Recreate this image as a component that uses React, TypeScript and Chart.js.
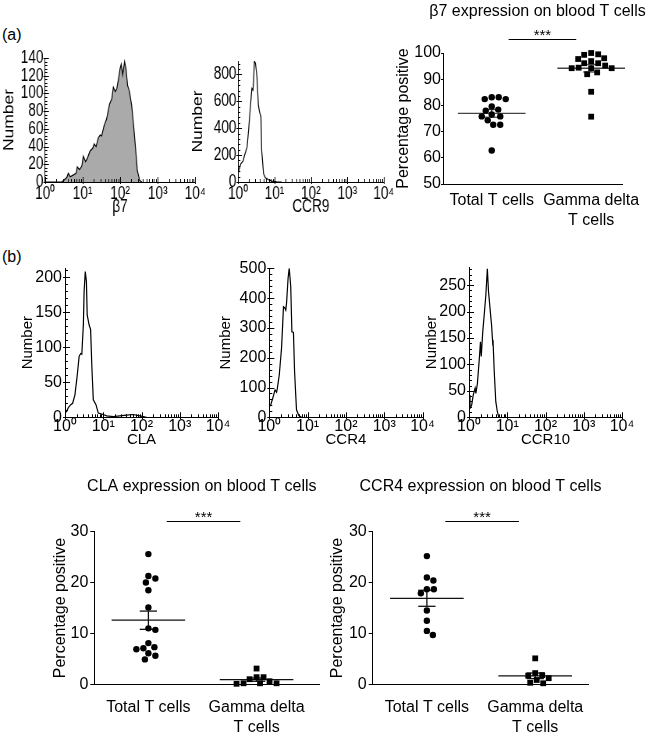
import React, { useEffect, useRef } from "react";
import { Chart, registerables } from "chart.js";

Chart.register(...registerables);

const FONT = "'Liberation Sans', Arial, Helvetica, sans-serif";

// ---------- tick labels & categories ----------
const decadeValues = [1, 10, 100, 1000, 10000];
const decadeLabels = ["10⁰", "10¹", "10²", "10³", "10⁴"];
const groupLabels: any[] = ["Total T cells", ["Gamma delta", "T cells"]];

// ---------- histograms: log10 fluorescence position / event count ----------
const b7Log = [0, 0.45, 0.5, 0.58, 0.62, 0.67, 0.76, 0.83, 0.86, 0.92, 0.98, 1.02, 1.08, 1.13, 1.2, 1.27, 1.31, 1.36, 1.42, 1.47, 1.51, 1.57, 1.64, 1.72, 1.78, 1.82, 1.87, 1.91, 1.96, 2.0, 2.03, 2.07, 2.12, 2.16, 2.2, 2.25, 2.31, 2.37, 2.43, 2.46, 2.52, 2.58];
const b7Count = [0, 0, 2, 5, 10, 6, 8, 10, 17, 14, 18, 29, 23, 27, 35, 38, 43, 40, 50, 53, 52, 63, 71, 88, 94, 107, 102, 105, 117, 128, 133, 121, 136, 127, 109, 102, 86, 59, 29, 13, 2, 0];

const ccr9Log = [0, 0.036, 0.08, 0.14, 0.18, 0.25, 0.29, 0.34, 0.38, 0.41, 0.43, 0.45, 0.48, 0.52, 0.56, 0.59, 0.63, 0.65, 0.7, 0.75, 0.84, 0.93, 1.06, 1.2];
const ccr9Count = [62, 99, 137, 157, 199, 261, 385, 559, 696, 683, 758, 900, 882, 783, 571, 522, 484, 236, 62, 32, 17, 7, 2, 0];

const claLog = [0, 0.04, 0.09, 0.15, 0.2, 0.26, 0.32, 0.37, 0.41, 0.44, 0.48, 0.5, 0.53, 0.56, 0.58, 0.63, 0.67, 0.7, 0.74, 0.81, 0.87, 1.0, 1.09, 1.26, 1.43, 1.6, 1.78, 1.96, 2.13];
const claCount = [10, 8, 14, 18, 20, 32, 60, 87, 91, 90, 132, 180, 208, 194, 146, 132, 125, 75, 25, 18, 6, 4, 2, 1, 2, 3, 4, 2, 0];

const ccr4Log = [0, 0.035, 0.09, 0.15, 0.19, 0.21, 0.26, 0.32, 0.37, 0.4, 0.43, 0.45, 0.49, 0.52, 0.56, 0.59, 0.63, 0.66, 0.71, 0.77, 0.84];
const ccr4Count = [36, 41, 64, 92, 84, 97, 142, 232, 371, 368, 360, 383, 466, 500, 438, 287, 285, 153, 25, 6, 0];

const ccr10Log = [0, 0.026, 0.07, 0.11, 0.16, 0.18, 0.22, 0.27, 0.3, 0.32, 0.36, 0.4, 0.44, 0.48, 0.51, 0.55, 0.59, 0.62, 0.63, 0.66, 0.7, 0.74, 0.78];
const ccr10Count = [42, 17, 23, 42, 55, 45, 64, 111, 143, 115, 162, 196, 231, 281, 238, 206, 174, 140, 142, 86, 30, 11, 0];

// ---------- percentage positive (each dot = one donor) ----------
const b7Total = [83.1, 83.1, 82.4, 82.4, 79.6, 78.4, 78.0, 76.5, 75.8, 75.8, 74.3, 72.6, 72.6, 62.8];
const b7Gamma = [100, 99.3, 99.5, 97.7, 98, 96.1, 96.1, 96.9, 94.2, 94.2, 94.2, 94.4, 91.9, 92.6, 85.2, 75.7, 95.2];
const claTotal = [25.6, 21.3, 20.8, 20.0, 18.5, 15.1, 10.7, 11.0, 8.1, 7.1, 6.9, 7.3, 6.1, 5.6, 4.9];
const claGamma = [1.4, 0.6, 0.2, 0.2, 3.1, 0.2, 0.1, 1.0, 1.4];
const ccr4Total = [25.2, 20.4, 21.0, 18.7, 17.9, 18.7, 14.5, 12.5, 9.7, 10.5];
const ccr4Gamma = [5.1, 2.2, 1.7, 0.85, 0.2, 0.3, 1.2, 1.8];

// ---------- helpers ----------
function range(min: number, max: number, step: number) {
  const out: number[] = [];
  for (let v = min; v <= max + 1e-9; v += step) out.push(Math.round(v * 1000) / 1000);
  return out;
}
function mean(a: number[]) {
  return a.reduce((s, v) => s + v, 0) / a.length;
}
function sem(a: number[]) {
  const m = mean(a);
  const v = a.reduce((s, x) => s + (x - m) * (x - m), 0) / (a.length - 1);
  return Math.sqrt(v / a.length);
}
// deterministic beeswarm: horizontal offsets (in category units) so dots don't overlap
function swarm(vals: number[], pxPerVal: number, pxPerCat: number, diam: number) {
  const idx = vals.map((_, i) => i).sort((a, b) => vals[b] - vals[a]);
  const placed: number[][] = [];
  const out = vals.map(() => 0);
  for (const i of idx) {
    const py = vals[i] * pxPerVal;
    let chosen = 0;
    for (let k = 0; k < 400; k++) {
      const cand = (k % 2 === 1 ? 1 : -1) * Math.ceil(k / 2) * 0.5;
      if (placed.every(([qx, qy]) => (cand - qx) ** 2 + (py - qy) ** 2 >= diam * diam)) {
        chosen = cand;
        break;
      }
    }
    placed.push([chosen, py]);
    out[i] = chosen / pxPerCat;
  }
  return out;
}

type Box = { x: number; y: number; w: number; h: number };
type Area = { l: number; t: number; r: number; b: number };

function ChartBox({ box, squash = 1, make }: { box: Box; squash?: number; make: () => any }) {
  const ref = useRef<HTMLCanvasElement>(null);
  useEffect(() => {
    const chart = new Chart(ref.current as HTMLCanvasElement, make());
    return () => chart.destroy();
  }, []);
  return (
    <div style={{ position: "absolute", left: box.x, top: box.y, width: box.w, height: box.h }}>
      <canvas
        ref={ref}
        width={Math.round(box.w / squash)}
        height={box.h}
        style={{ display: "block", transform: squash !== 1 ? `scaleX(${squash})` : "none", transformOrigin: "0 0" }}
      />
    </div>
  );
}

// ---------- histogram panel ----------
type HistP = {
  box: Box; area: Area; squash: number; font: number; titleFont: number;
  logX: number[]; counts: number[]; yMax: number; yStep: number; yMinor: number;
  fill?: string; xTitle: string; xTitleY: number; yTitleX: number; xLabelPad: number; yLabelPad: number;
};

function histTicksPlugin(p: HistP) {
  return {
    id: "histTicks",
    afterDraw(chart: any) {
      const { ctx, chartArea: a, scales } = chart;
      const x = scales.x, y = scales.y;
      ctx.save();
      ctx.strokeStyle = "#000";
      ctx.lineWidth = 1;
      ctx.beginPath();
      for (const v of range(0, p.yMax, p.yMinor)) {
        const py = Math.round(y.getPixelForValue(v)) + 0.5;
        const major = Math.abs(v / p.yStep - Math.round(v / p.yStep)) < 1e-6;
        ctx.moveTo(a.left - (major ? 2 : 0), py);
        ctx.lineTo(a.left + (major ? 5 : 3), py);
      }
      for (let k = 0; k < 4; k++) {
        for (let m = 2; m <= 9; m++) {
          const px = Math.round(x.getPixelForValue(m * Math.pow(10, k))) + 0.5;
          ctx.moveTo(px, a.bottom);
          ctx.lineTo(px, a.bottom - 3);
        }
      }
      for (const v of decadeValues) {
        const px = Math.round(x.getPixelForValue(v)) + 0.5;
        ctx.moveTo(px, a.bottom + 2);
        ctx.lineTo(px, a.bottom - 5);
      }
      ctx.stroke();
      ctx.restore();
    },
  };
}

function histConfig(p: HistP) {
  const s = p.squash;
  const padTop = p.area.t - p.box.y;
  const padRight = (p.box.x + p.box.w - p.area.r) / s;
  const yW = (p.area.l - p.box.x) / s;
  const xH = p.box.y + p.box.h - p.area.b;
  const lh = p.titleFont * 1.2;
  const data = p.logX.map((lx, i) => ({ x: Math.pow(10, lx), y: p.counts[i] }));
  return {
    type: "line",
    data: {
      datasets: [
        {
          data,
          borderColor: "#000",
          borderWidth: 1.2,
          pointRadius: 0,
          tension: 0,
          fill: p.fill ? "origin" : false,
          backgroundColor: p.fill || "rgba(0,0,0,0)",
        },
      ],
    },
    options: {
      animation: false,
      responsive: false,
      events: [],
      layout: { padding: { top: padTop, right: padRight, left: 0, bottom: 0 } },
      plugins: { legend: { display: false }, tooltip: { enabled: false } },
      scales: {
        x: {
          type: "logarithmic",
          min: 1,
          max: 10000,
          afterBuildTicks: (sc: any) => {
            sc.ticks = decadeValues.map((v) => ({ value: v }));
          },
          afterFit: (sc: any) => {
            sc.height = xH;
            sc.paddingLeft = 0;
            sc.paddingRight = 0;
          },
          grid: { display: false, drawTicks: false },
          border: { display: true, color: "#000", width: 1 },
          ticks: {
            color: "#000",
            font: { family: FONT, size: p.font },
            padding: p.xLabelPad,
            maxRotation: 0,
            autoSkip: false,
            callback: (v: any) => decadeLabels[Math.round(Math.log10(Number(v)))],
          },
          title: {
            display: true,
            text: p.xTitle,
            color: "#000",
            font: { family: FONT, size: p.titleFont },
            padding: { top: 0, bottom: p.box.y + p.box.h - p.xTitleY - lh / 2 },
          },
        },
        y: {
          type: "linear",
          min: 0,
          max: p.yMax,
          afterBuildTicks: (sc: any) => {
            sc.ticks = range(0, p.yMax, p.yStep).map((v) => ({ value: v }));
          },
          afterFit: (sc: any) => {
            sc.width = yW;
            sc.paddingTop = 0;
            sc.paddingBottom = 0;
          },
          grid: { display: false, drawTicks: false },
          border: { display: true, color: "#000", width: 1 },
          ticks: { color: "#000", font: { family: FONT, size: p.font }, padding: p.yLabelPad, autoSkip: false },
          title: {
            display: true,
            text: "Number",
            color: "#000",
            font: { family: FONT, size: p.titleFont },
            padding: { top: (p.yTitleX - p.box.x) / s - lh / 2, bottom: 0 },
          },
        },
      },
    },
    plugins: [histTicksPlugin(p)],
  };
}

// ---------- dot-plot panel ----------
type DotP = {
  box: Box; area: Area; groups: number[][]; xMin: number; xMax: number;
  yMin: number; yMax: number; yStep: number; tickLen: number; yLabelPad: number; xLabelPad: number;
  yTitleX: number; title: string; titleDx: number; titleGap: number; sigGap: number; lineColor: string;
};

function dotAnnotPlugin(p: DotP) {
  return {
    id: "dotAnnot",
    afterDraw(chart: any) {
      const { ctx, chartArea: a, scales } = chart;
      const x = scales.x;
      ctx.save();
      ctx.fillStyle = "#000";
      ctx.textAlign = "center";
      ctx.textBaseline = "middle";
      ctx.font = `16px ${FONT}`;
      ctx.fillText(p.title, (a.left + a.right) / 2 + p.titleDx, a.top - p.titleGap);
      const ly = Math.round(a.top - p.sigGap) + 0.5;
      const x0 = x.getPixelForValue(0.17);
      const x1 = x.getPixelForValue(0.85);
      ctx.strokeStyle = "#000";
      ctx.lineWidth = 1;
      ctx.beginPath();
      ctx.moveTo(x0, ly);
      ctx.lineTo(x1, ly);
      ctx.stroke();
      ctx.font = `15px ${FONT}`;
      ctx.textBaseline = "alphabetic";
      ctx.fillText("***", (x0 + x1) / 2, ly + 0.5);
      ctx.restore();
    },
  };
}

function dotConfig(p: DotP) {
  const padTop = p.area.t - p.box.y;
  const padRight = p.box.x + p.box.w - p.area.r;
  const yW = p.area.l - p.box.x;
  const xH = p.box.y + p.box.h - p.area.b;
  const pxPerVal = (p.area.b - p.area.t) / (p.yMax - p.yMin);
  const pxPerCat = (p.area.r - p.area.l) / (p.xMax - p.xMin);
  const datasets: any[] = [];
  p.groups.forEach((vals, gi) => {
    const off = swarm(vals, pxPerVal, pxPerCat, 7);
    datasets.push({
      type: "scatter",
      data: vals.map((v, i) => ({ x: gi + off[i], y: v })),
      pointStyle: gi === 0 ? "circle" : "rect",
      pointRadius: gi === 0 ? 3.2 : 4.1,
      backgroundColor: "#000",
      borderWidth: 0,
      clip: false,
      order: 0,
    });
    const m = mean(vals);
    const e = sem(vals);
    const segs = [
      [[gi - 0.34, m], [gi + 0.34, m]],
      [[gi, m - e], [gi, m + e]],
      [[gi - 0.08, m + e], [gi + 0.08, m + e]],
      [[gi - 0.08, m - e], [gi + 0.08, m - e]],
    ];
    segs.forEach((sg) => {
      datasets.push({
        type: "scatter",
        showLine: true,
        data: sg.map(([x, y]) => ({ x, y })),
        borderColor: p.lineColor,
        borderWidth: 1.3,
        pointRadius: 0,
        clip: false,
        order: 1,
      });
    });
  });
  return {
    type: "scatter",
    data: { datasets },
    options: {
      animation: false,
      responsive: false,
      events: [],
      layout: { padding: { top: padTop, right: padRight, left: 0, bottom: 0 } },
      plugins: { legend: { display: false }, tooltip: { enabled: false } },
      scales: {
        x: {
          type: "linear",
          min: p.xMin,
          max: p.xMax,
          afterBuildTicks: (sc: any) => {
            sc.ticks = groupLabels.map((_, i) => ({ value: i }));
          },
          afterFit: (sc: any) => {
            sc.height = xH;
            sc.paddingLeft = 0;
            sc.paddingRight = 0;
          },
          grid: { display: false, drawTicks: false },
          border: { display: true, color: "#000", width: 1 },
          ticks: {
            color: "#000",
            font: { family: FONT, size: 16 },
            padding: p.xLabelPad,
            maxRotation: 0,
            autoSkip: false,
            callback: (v: any) => groupLabels[Math.round(Number(v))],
          },
        },
        y: {
          type: "linear",
          min: p.yMin,
          max: p.yMax,
          afterBuildTicks: (sc: any) => {
            sc.ticks = range(p.yMin, p.yMax, p.yStep).map((v) => ({ value: v }));
          },
          afterFit: (sc: any) => {
            sc.width = yW;
            sc.paddingTop = 0;
            sc.paddingBottom = 0;
          },
          grid: { display: true, drawOnChartArea: false, drawTicks: true, tickLength: p.tickLen, color: "#000", lineWidth: 1 },
          border: { display: true, color: "#000", width: 1 },
          ticks: { color: "#000", font: { family: FONT, size: 16 }, padding: p.yLabelPad, autoSkip: false },
          title: {
            display: true,
            text: "Percentage positive",
            color: "#000",
            font: { family: FONT, size: 16 },
            padding: { top: p.yTitleX - p.box.x - 9.6, bottom: 0 },
          },
        },
      },
    },
    plugins: [dotAnnotPlugin(p)],
  };
}

// ---------- panel layouts ----------
const histA1: HistP = {
  box: { x: 0, y: 40, w: 205, h: 180 }, area: { l: 45, t: 58, r: 195, b: 182 }, squash: 0.78,
  font: 17.5, titleFont: 17.5, logX: b7Log, counts: b7Count, yMax: 140, yStep: 20, yMinor: 4,
  fill: "#aaaaaa", xTitle: "β7", xTitleY: 207.5, yTitleX: 9.2, xLabelPad: 1.5, yLabelPad: 2,
};
const histA2: HistP = {
  box: { x: 188, y: 40, w: 207, h: 180 }, area: { l: 238, t: 61, r: 384, b: 182 }, squash: 0.78,
  font: 17.5, titleFont: 17.5, logX: ccr9Log, counts: ccr9Count, yMax: 900, yStep: 200, yMinor: 40,
  xTitle: "CCR9", xTitleY: 207.5, yTitleX: 198.5, xLabelPad: 1.5, yLabelPad: 2,
};
const histB1: HistP = {
  box: { x: 0, y: 255, w: 235, h: 200 }, area: { l: 65, t: 268, r: 218, b: 417.3 }, squash: 1,
  font: 16, titleFont: 15, logX: claLog, counts: claCount, yMax: 213, yStep: 50, yMinor: 10,
  xTitle: "CLA", xTitleY: 440, yTitleX: 27.5, xLabelPad: 0, yLabelPad: 3,
};
const histB2: HistP = {
  box: { x: 212, y: 255, w: 228, h: 200 }, area: { l: 269.3, t: 268.3, r: 422.5, b: 417.3 }, squash: 1,
  font: 16, titleFont: 15, logX: ccr4Log, counts: ccr4Count, yMax: 500, yStep: 100, yMinor: 20,
  xTitle: "CCR4", xTitleY: 440, yTitleX: 226, xLabelPad: 0, yLabelPad: 3,
};
const histB3: HistP = {
  box: { x: 415, y: 255, w: 236, h: 200 }, area: { l: 469, t: 267.7, r: 622, b: 417.3 }, squash: 1,
  font: 16, titleFont: 15, logX: ccr10Log, counts: ccr10Count, yMax: 283, yStep: 50, yMinor: 10,
  xTitle: "CCR10", xTitleY: 440, yTitleX: 432, xLabelPad: 0, yLabelPad: 3,
};

const dotB7: DotP = {
  box: { x: 385, y: 0, w: 266, h: 235 }, area: { l: 443, t: 53, r: 622, b: 184 },
  groups: [b7Total, b7Gamma], xMin: -0.49, xMax: 1.31, yMin: 50, yMax: 100, yStep: 10,
  tickLen: 2, yLabelPad: 0, xLabelPad: 7.4, yTitleX: 404, title: "β7 expression on blood T cells",
  titleDx: 5, titleGap: 41, sigGap: 14, lineColor: "#444",
};
const dotCLA: DotP = {
  box: { x: 30, y: 470, w: 300, h: 268 }, area: { l: 94.3, t: 531.7, r: 319.3, b: 684.3 },
  groups: [claTotal, claGamma], xMin: -0.5, xMax: 1.58, yMin: 0, yMax: 30, yStep: 10,
  tickLen: 4, yLabelPad: 2, xLabelPad: 14, yTitleX: 60.7, title: "CLA expression on blood T cells",
  titleDx: -5, titleGap: 45, sigGap: 10.7, lineColor: "#111",
};
const dotCCR4: DotP = {
  box: { x: 325, y: 470, w: 326, h: 268 }, area: { l: 372.7, t: 531.7, r: 588.3, b: 684.3 },
  groups: [ccr4Total, ccr4Gamma], xMin: -0.5, xMax: 1.49, yMin: 0, yMax: 30, yStep: 10,
  tickLen: 4, yLabelPad: 2, xLabelPad: 14, yTitleX: 337.7, title: "CCR4 expression on blood T cells",
  titleDx: 0, titleGap: 45, sigGap: 10.7, lineColor: "#111",
};

export default function App() {
  const label = (t: string, top: number) => (
    <div style={{ position: "absolute", left: 2, top, font: `16px ${FONT}`, lineHeight: "16px", color: "#000" }}>{t}</div>
  );
  return (
    <div style={{ position: "absolute", left: 0, top: 0, width: 651, height: 738, overflow: "hidden", background: "#fff" }}>
      {label("(a)", 27)}
      {label("(b)", 249)}
      <ChartBox box={histA1.box} squash={histA1.squash} make={() => histConfig(histA1)} />
      <ChartBox box={histA2.box} squash={histA2.squash} make={() => histConfig(histA2)} />
      <ChartBox box={dotB7.box} make={() => dotConfig(dotB7)} />
      <ChartBox box={histB1.box} make={() => histConfig(histB1)} />
      <ChartBox box={histB2.box} make={() => histConfig(histB2)} />
      <ChartBox box={histB3.box} make={() => histConfig(histB3)} />
      <ChartBox box={dotCLA.box} make={() => dotConfig(dotCLA)} />
      <ChartBox box={dotCCR4.box} make={() => dotConfig(dotCCR4)} />
    </div>
  );
}
